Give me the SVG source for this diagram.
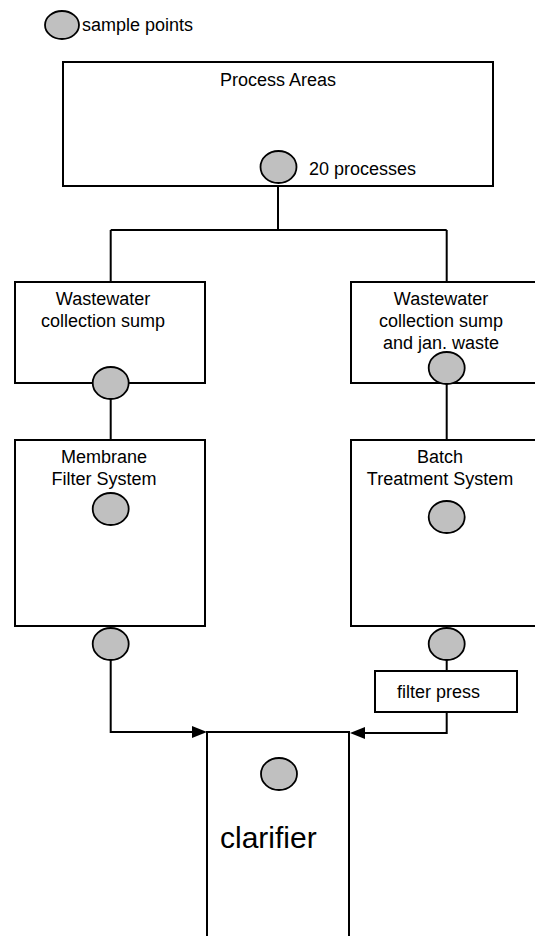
<svg xmlns="http://www.w3.org/2000/svg" width="535" height="936" viewBox="0 0 535 936">
<defs>
<style>
.box{fill:#fff;stroke:#000;stroke-width:2}
.sp{fill:#c0c0c0;stroke:#000;stroke-width:1.8}
.ln{fill:none;stroke:#000;stroke-width:2}
.t{font-family:"Liberation Sans",Arial,sans-serif;font-size:18px;fill:#000}
.m{text-anchor:middle}
</style>
</defs>
<g id="legend">
<ellipse class="sp" cx="62" cy="25" rx="17" ry="14"/>
<text class="t" x="82" y="31">sample points</text>
</g>
<g id="connectors">
<path class="ln" d="M278,186 V230 M110.7,230 H446.7 M110.7,230 V282 M446.7,230 V282"/>
<path class="ln" d="M110.7,399 V440 M446.7,384 V440"/>
<path class="ln" d="M446.7,660 V671"/>
<path class="ln" d="M110.7,660 V732 H193"/>
<path d="M192,726 L207,732 L192,738 z" fill="#000"/>
<path class="ln" d="M446.7,712 V733 H364"/>
<path d="M365,727 L350,733 L365,739 z" fill="#000"/>
</g>
<g id="process-areas">
<rect class="box" x="63" y="62" width="430" height="124"/>
<text class="t m" x="278" y="86">Process Areas</text>
<ellipse class="sp" cx="278.5" cy="167" rx="18" ry="16"/>
<text class="t" x="309" y="175">20 processes</text>
</g>
<g id="sump-left">
<rect class="box" x="15" y="282" width="190" height="101"/>
<text class="t m" x="103" y="305">Wastewater</text>
<text class="t m" x="103" y="327">collection sump</text>
<ellipse class="sp" cx="110.7" cy="383" rx="18" ry="16"/>
</g>
<g id="sump-right">
<rect class="box" x="351" y="282" width="200" height="101"/>
<text class="t m" x="441" y="305">Wastewater</text>
<text class="t m" x="441" y="327">collection sump</text>
<text class="t m" x="441" y="349">and jan. waste</text>
<ellipse class="sp" cx="446.7" cy="368" rx="18" ry="16"/>
</g>
<g id="membrane">
<rect class="box" x="15" y="440" width="190" height="186"/>
<text class="t m" x="104" y="463">Membrane</text>
<text class="t m" x="104" y="485">Filter System</text>
<ellipse class="sp" cx="110.7" cy="509" rx="18" ry="16"/>
</g>
<g id="batch">
<rect class="box" x="351" y="440" width="200" height="186"/>
<text class="t m" x="440" y="463">Batch</text>
<text class="t m" x="440" y="485">Treatment System</text>
<ellipse class="sp" cx="446.7" cy="517" rx="18" ry="16"/>
</g>
<g id="sp-membrane-out">
<ellipse class="sp" cx="110.7" cy="644" rx="18" ry="16"/>
</g>
<g id="sp-batch-out">
<ellipse class="sp" cx="446.7" cy="644" rx="18" ry="16"/>
</g>
<g id="filter-press">
<rect class="box" x="375" y="671" width="142" height="41"/>
<text class="t" x="397" y="698">filter press</text>
</g>
<g id="clarifier">
<path class="ln" d="M207,938 V732 H349 V938"/>
<ellipse class="sp" cx="279" cy="774" rx="18" ry="16"/>
<text class="t" x="220" y="848" style="font-size:30px">clarifier</text>
</g>
</svg>
